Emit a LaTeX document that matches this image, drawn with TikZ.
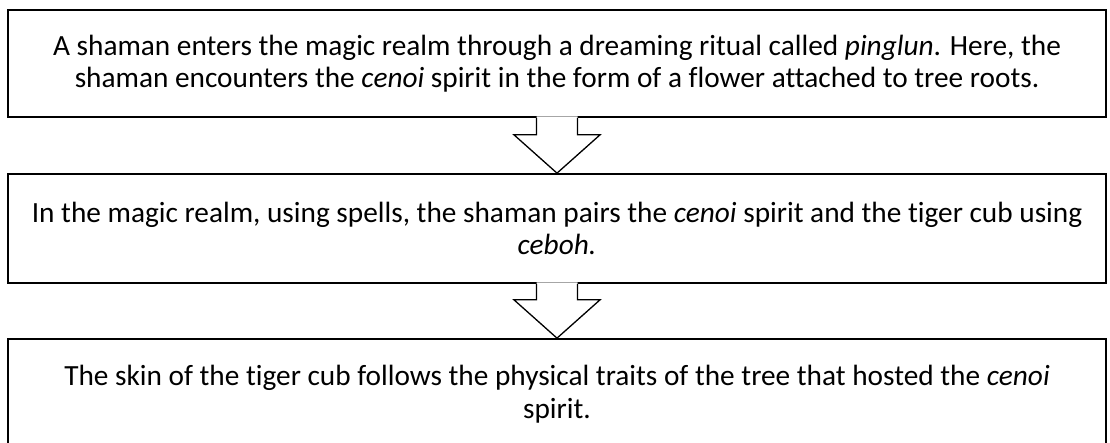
\documentclass[tikz,border=0pt]{standalone}
\usepackage{fontspec}
\setmainfont{Carlito}[Ligatures=NoCommon]
\usetikzlibrary{calc}
\begin{document}
\begin{tikzpicture}[x=1pt,y=1pt,
  stepbox/.style={draw=black, line width=1.7pt, fill=white, minimum width=1098pt, inner sep=0pt, align=center,
    font=\fontsize{29.3}{32.5}\selectfont},
  blockarrow/.style={draw=black, line width=1.3pt, line join=miter}]
\useasboundingbox (0,0) rectangle (1110,-443);
\node[stepbox, minimum height=107pt] (b1) at (557,-63.5)
  {A shaman enters the magic realm through a dreaming ritual called \textit{pinglun}. Here, the\\
   shaman encounters the \textit{cenoi} spirit in the form of a flower attached to tree roots.};
\node[stepbox, minimum height=109pt] (b2) at (557,-228.5)
  {In the magic realm, using spells, the shaman pairs the \textit{cenoi} spirit and the tiger cub using\\
   \textit{ceboh.}};
\node[stepbox, minimum height=110pt] (b3) at (557,-394)
  {The skin of the tiger cub follows the physical traits of the tree that hosted the \textit{cenoi}\\
   spirit.};
% arrow 1
\fill[white] ($(b1.south)+(-20.5,1.5)$) -- ($(b1.south)+(-20.5,-17)$) -- ($(b1.south)+(-43,-17)$) -- (b2.north)
  -- ($(b1.south)+(43,-17)$) -- ($(b1.south)+(20.5,-17)$) -- ($(b1.south)+(20.5,1.5)$) -- cycle;
\draw[blockarrow] ($(b1.south)+(-20.5,0)$) -- ($(b1.south)+(-20.5,-17)$) -- ($(b1.south)+(-43,-17)$) -- (b2.north)
  -- ($(b1.south)+(43,-17)$) -- ($(b1.south)+(20.5,-17)$) -- ($(b1.south)+(20.5,0)$);
% arrow 2
\fill[white] ($(b2.south)+(-20.5,1.5)$) -- ($(b2.south)+(-20.5,-16)$) -- ($(b2.south)+(-43,-16)$) -- (b3.north)
  -- ($(b2.south)+(43,-16)$) -- ($(b2.south)+(20.5,-16)$) -- ($(b2.south)+(20.5,1.5)$) -- cycle;
\draw[blockarrow] ($(b2.south)+(-20.5,0)$) -- ($(b2.south)+(-20.5,-16)$) -- ($(b2.south)+(-43,-16)$) -- (b3.north)
  -- ($(b2.south)+(43,-16)$) -- ($(b2.south)+(20.5,-16)$) -- ($(b2.south)+(20.5,0)$);
\end{tikzpicture}
\end{document}
